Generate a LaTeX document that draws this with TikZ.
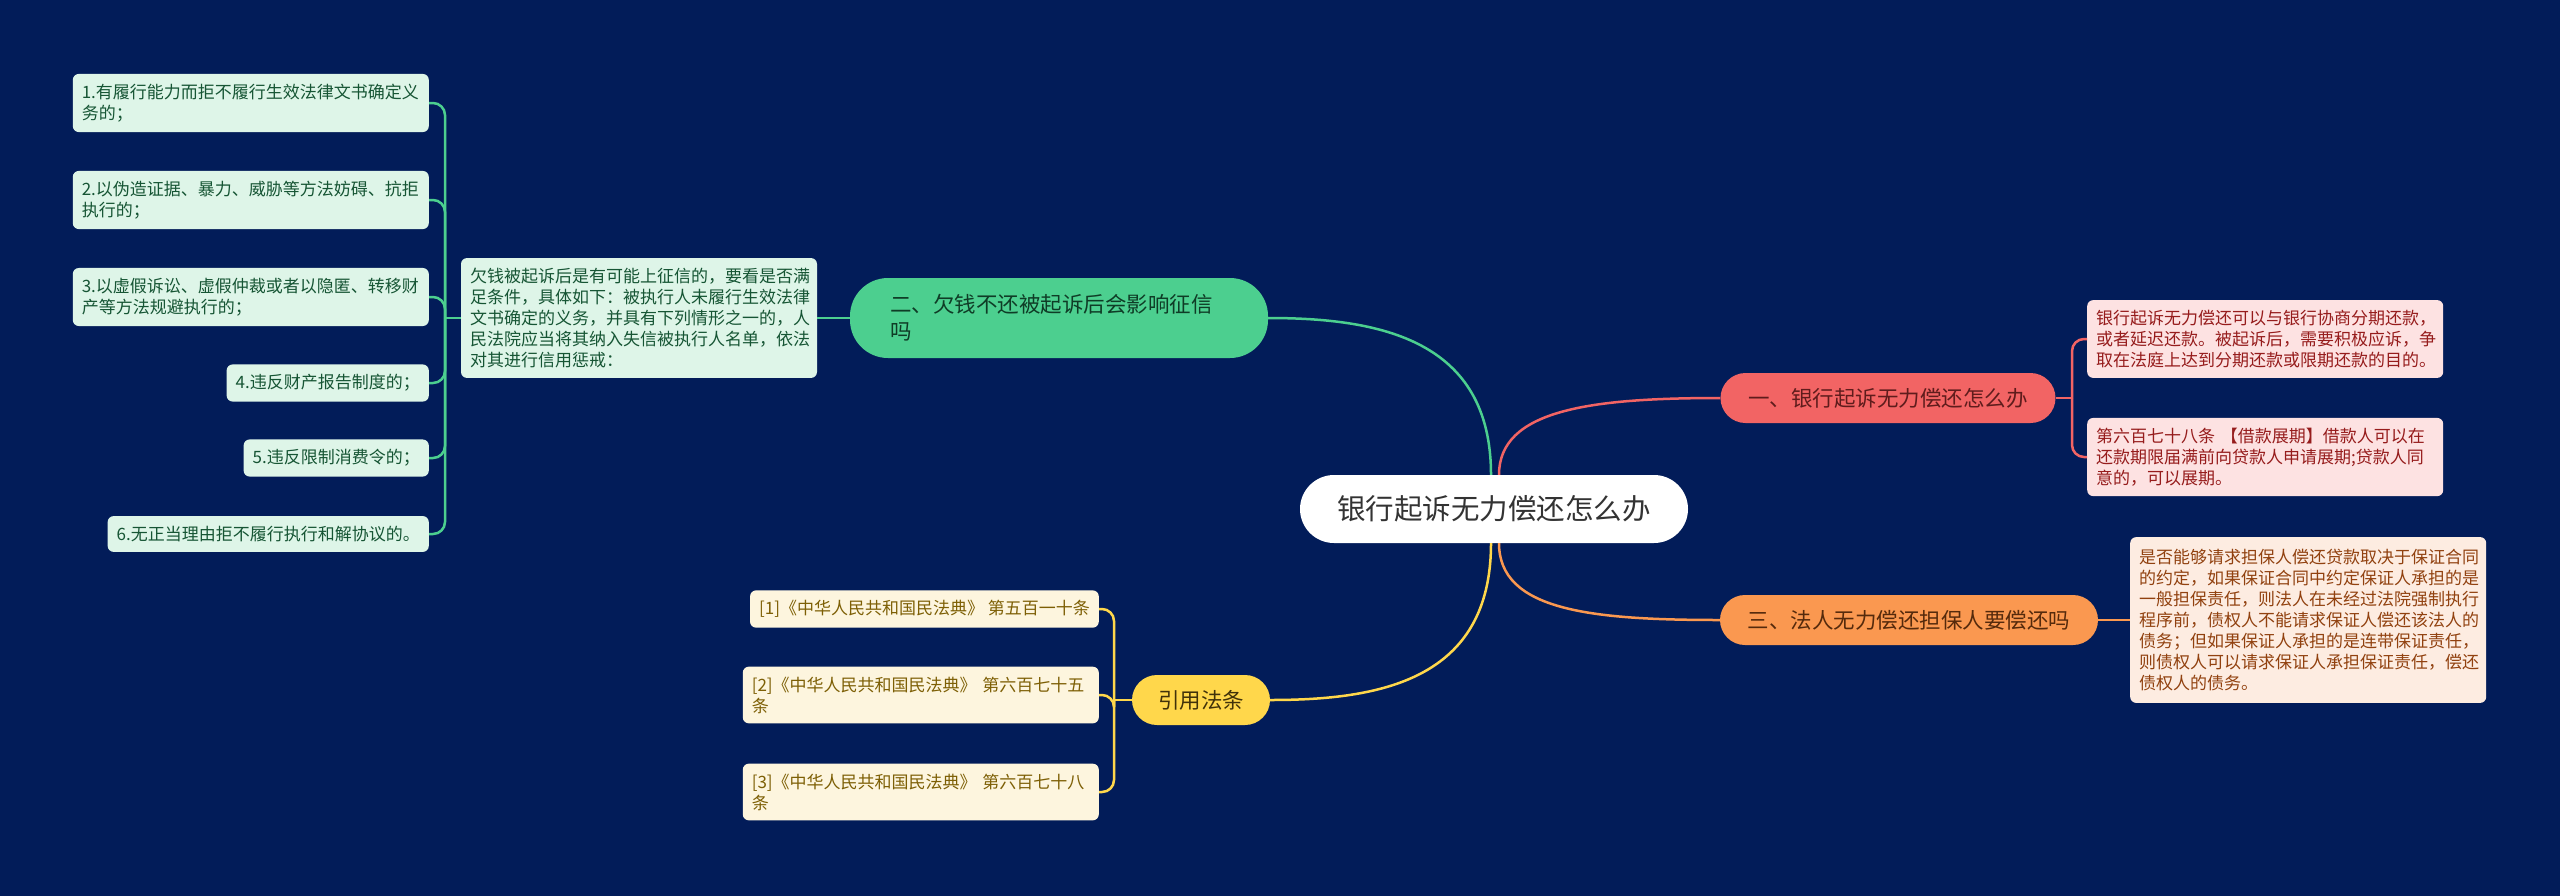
\documentclass[tikz,border=0pt]{standalone}
\usepackage{fontspec}
\setmainfont{Noto Sans CJK SC}
\usetikzlibrary{positioning}
\definecolor{night}{RGB}{2,28,89}
\definecolor{coral}{RGB}{242,100,100}
\definecolor{coralpale}{RGB}{253,226,226}
\definecolor{coraltext}{RGB}{150,28,28}
\definecolor{coraldark}{RGB}{95,28,28}
\definecolor{mint}{RGB}{76,207,143}
\definecolor{mintpale}{RGB}{222,245,232}
\definecolor{minttext}{RGB}{22,85,52}
\definecolor{mintdark}{RGB}{15,60,38}
\definecolor{tangerine}{RGB}{250,152,80}
\definecolor{tangpale}{RGB}{253,236,225}
\definecolor{tangtext}{RGB}{145,65,15}
\definecolor{tangdark}{RGB}{85,42,12}
\definecolor{sun}{RGB}{255,215,75}
\definecolor{sunpale}{RGB}{253,245,222}
\definecolor{suntext}{RGB}{125,95,5}
\definecolor{sundark}{RGB}{65,50,10}
\tikzset{
  root/.style={fill=white,text=black!80,rounded corners=34pt,minimum width=388pt,
    minimum height=68pt,font=\fontsize{28.5pt}{32pt}\selectfont},
  topic/.style 2 args={fill=#1,text=#2,rounded corners=25pt,minimum height=50pt,
    inner xsep=26pt,font=\fontsize{21.5pt}{27pt}\selectfont},
  leaf/.style 2 args={fill=#1,text=#2,rounded corners=6pt,inner xsep=9pt,inner ysep=10pt,
    align=left,font=\fontsize{17pt}{21pt}\selectfont},
  link/.style={draw=#1,line width=2.5pt},
  fork/.style={draw=#1,line width=2.5pt,rounded corners=12pt},
}

\begin{document}
\begin{tikzpicture}[x=1pt,y=-1pt]
    \useasboundingbox (0,0) rectangle (2560,895);
    \fill[night] (-4,-4) rectangle (2564,899);
    % centre
    \node[root] (root) at (1494,509) {银行起诉无力偿还怎么办};
    % branch one
    \node[topic={coral}{coraldark},minimum width=335pt] (rtopic) at (1888,398) {一、银行起诉无力偿还怎么办};
    \node[leaf={coralpale}{coraltext},text width=338pt,anchor=west] (rl1) at (2087,339)
      {银行起诉无力偿还可以与银行协商分期还款，\\或者延迟还款。被起诉后，需要积极应诉，争\\取在法庭上达到分期还款或限期还款的目的。};
    \node[leaf={coralpale}{coraltext},text width=338pt,anchor=west] (rl2) at (2087,457)
      {第六百七十八条 【借款展期】借款人可以在\\还款期限届满前向贷款人申请展期;贷款人同\\意的，可以展期。};
    % branch two
    \node[topic={mint}{mintdark},text width=338pt,align=left,inner xsep=40pt,inner ysep=10pt,
      rounded corners=38pt,minimum height=80pt] (mtopic) at (1059,318)
      {二、欠钱不还被起诉后会影响征信\\吗};
    \node[leaf={mintpale}{minttext},text width=338pt] (mbox) at (639,318)
      {欠钱被起诉后是有可能上征信的，要看是否满\\足条件，具体如下：被执行人未履行生效法律\\文书确定的义务，并具有下列情形之一的，人\\民法院应当将其纳入失信被执行人名单，依法\\对其进行信用惩戒：};
    \node[leaf={mintpale}{minttext},text width=338pt,anchor=east] (ml1) at (429,103)
      {1.有履行能力而拒不履行生效法律文书确定义\\务的；};
    \node[leaf={mintpale}{minttext},text width=338pt,anchor=east] (ml2) at (429,200)
      {2.以伪造证据、暴力、威胁等方法妨碍、抗拒\\执行的；};
    \node[leaf={mintpale}{minttext},text width=338pt,anchor=east] (ml3) at (429,297)
      {3.以虚假诉讼、虚假仲裁或者以隐匿、转移财\\产等方法规避执行的；};
    \node[leaf={mintpale}{minttext},anchor=east] (ml4) at (429,383) {4.违反财产报告制度的；};
    \node[leaf={mintpale}{minttext},anchor=east] (ml5) at (429,458) {5.违反限制消费令的；};
    \node[leaf={mintpale}{minttext},anchor=east] (ml6) at (429,534) {6.无正当理由拒不履行执行和解协议的。};
    % branch three
    \node[topic={tangerine}{tangdark},minimum width=378pt] (otopic) at (1909,620) {三、法人无力偿还担保人要偿还吗};
    \node[leaf={tangpale}{tangtext},text width=338pt,inner ysep=12pt,anchor=west] (oleaf) at (2130,620)
      {是否能够请求担保人偿还贷款取决于保证合同\\的约定，如果保证合同中约定保证人承担的是\\一般担保责任，则法人在未经过法院强制执行\\程序前，债权人不能请求保证人偿还该法人的\\债务；但如果保证人承担的是连带保证责任，\\则债权人可以请求保证人承担保证责任，偿还\\债权人的债务。};
    % references
    \node[topic={sun}{sundark},minimum width=138pt] (ytopic) at (1201,700) {引用法条};
    \node[leaf={sunpale}{suntext},anchor=east] (yl1) at (1099,609) {[1]《中华人民共和国民法典》 第五百一十条};
    \node[leaf={sunpale}{suntext},text width=338pt,anchor=east] (yl2) at (1099,695)
      {[2]《中华人民共和国民法典》 第六百七十五\\条};
    \node[leaf={sunpale}{suntext},text width=338pt,anchor=east] (yl3) at (1099,792)
      {[3]《中华人民共和国民法典》 第六百七十八\\条};
    % fork points
    \coordinate (rfork) at (2072,398);
    \coordinate (mfork) at (445,318);
    \coordinate (yfork) at (1114,700);
    % connectors
    \draw[link=mint] ([xshift=-3pt]root.north) .. controls +(0,-135) and +(112,0) .. (mtopic.east);
    \draw[link=coral] ([xshift=5pt]root.north) .. controls +(0,-65) and +(-130,0) .. (rtopic.west);
    \draw[link=tangerine] ([xshift=5pt]root.south) .. controls +(0,67) and +(-130,0) .. (otopic.west);
    \draw[link=sun] ([xshift=-3pt]root.south) .. controls +(0,137) and +(110,0) .. (ytopic.east);
    \draw[link=coral] (rtopic.east) -- (rfork);
    \foreach \i in {1,2} \draw[fork=coral] (rfork) |- (rl\i.west);
    \draw[link=mint] (mtopic.west) -- (mbox.east);
    \draw[link=mint] (mbox.west) -- (mfork);
    \foreach \i in {1,...,6} \draw[fork=mint] (mfork) |- (ml\i.east);
    \draw[link=tangerine] (otopic.east) -- (oleaf.west);
    \draw[link=sun] (ytopic.west) -- (yfork);
    \foreach \i in {1,2,3} \draw[fork=sun] (yfork) |- (yl\i.east);
\end{tikzpicture}
\end{document}
